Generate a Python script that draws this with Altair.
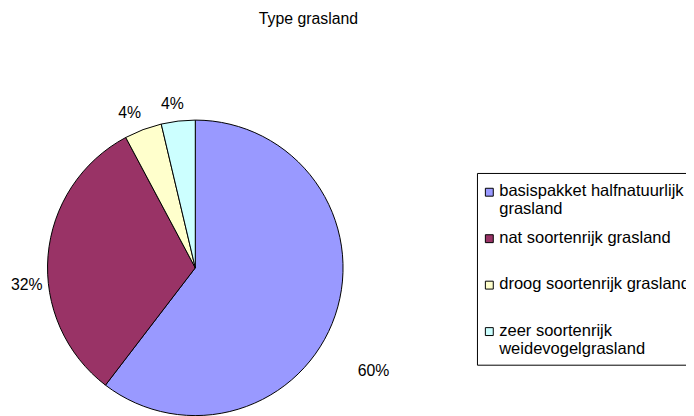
import math
import altair as alt
import pandas as pd

categories = [
    "basispakket halfnatuurlijk grasland",
    "nat soortenrijk grasland",
    "droog soortenrijk grasland",
    "zeer soortenrijk weidevogelgrasland",
]
legend_labels = [
    "basispakket halfnatuurlijk\ngrasland",
    "nat soortenrijk grasland",
    "droog soortenrijk grasland",
    "zeer soortenrijk\nweidevogelgrasland",
]
values = [60.4, 31.8, 4.1, 3.7]
pct_labels = ["60%", "32%", "4%", "4%"]
colors = ["#9999FF", "#993366", "#FFFFCC", "#CCFFFF"]

df = pd.DataFrame({
    "cat": categories,
    "legend": legend_labels,
    "value": values,
    "label": pct_labels,
    "idx": list(range(len(categories))),
})

W, H = 686, 408
CX, CY = 189.5, 260.5
R = 149.5
FONT = "Liberation Sans"

theta_scale = alt.Scale(domain=[0, sum(values)], range=[0, 2 * math.pi])
color_scale = alt.Scale(domain=categories, range=colors)

base = (
    alt.Chart(df)
    .transform_window(cum="sum(value)", sort=[alt.SortField("idx")], frame=[None, 0])
    .transform_calculate(start="datum.cum - datum.value", mid="datum.cum - datum.value / 2")
)

arcs = base.mark_arc(outerRadius=R, stroke="black", strokeWidth=1).encode(
    theta=alt.Theta("start:Q", scale=theta_scale, stack=None),
    theta2="cum:Q",
    color=alt.Color("cat:N", scale=color_scale, legend=None),
    x=alt.value(CX),
    y=alt.value(CY),
)

label_offsets = [(24, 51), (-6, 31), (-8, -2), (-4, -2)]
label_layers = []
for i, (ddx, ddy) in enumerate(label_offsets):
    label_layers.append(
        base.transform_filter(alt.datum.idx == i)
        .mark_text(radius=165, dx=ddx, dy=ddy, fontSize=16, font=FONT,
                   align="center", baseline="middle", color="black")
        .encode(
            theta=alt.Theta("mid:Q", scale=theta_scale, stack=None),
            text="label:N",
            x=alt.value(CX),
            y=alt.value(CY),
        )
    )

box = alt.Chart(pd.DataFrame({"a": [0]})).mark_rect(
    fill="white", stroke="black", strokeWidth=1
).encode(x=alt.value(475), x2=alt.value(730), y=alt.value(165), y2=alt.value(359))

leg_y = alt.Y("cat:N", scale=alt.Scale(type="point", domain=categories, range=[184, 325], padding=0), axis=None)

markers = base.mark_square(size=64, stroke="black", strokeWidth=1, opacity=1).encode(
    x=alt.value(487),
    y=leg_y,
    color=alt.Color("cat:N", scale=color_scale, legend=None),
)

leg_text = base.mark_text(
    align="left", baseline="alphabetic", dy=4, lineBreak="\n", lineHeight=18.5,
    fontSize=16.7, font=FONT, color="black"
).encode(x=alt.value(497), y=leg_y, text="legend:N")

title = alt.Chart(pd.DataFrame({"t": ["Type grasland"]})).mark_text(
    fontSize=16, font=FONT, align="center", baseline="alphabetic", color="black"
).encode(x=alt.value(304), y=alt.value(14), text="t:N")

chart = alt.layer(arcs, *label_layers, box, markers, leg_text, title).properties(
    width=W, height=H, autosize=alt.AutoSizeParams(type="none"), padding=0, background="white"
).configure_view(stroke=None)

chart.save("out.html", embed_options={"renderer": "svg", "actions": False})
